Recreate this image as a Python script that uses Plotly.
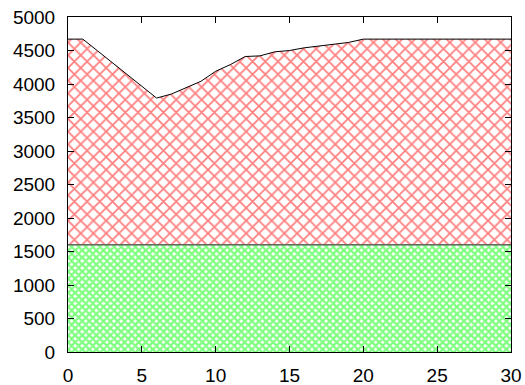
import plotly.graph_objects as go

x_vals = list(range(0, 31))
top_vals = [4670, 4670, 4495, 4320, 4140, 3965, 3790, 3850, 3940, 4040,
            4190, 4290, 4410, 4420, 4480, 4500, 4540, 4570, 4600, 4620,
            4670, 4670, 4670, 4670, 4670, 4670, 4670, 4670, 4670, 4670, 4670]
base_vals = [1600] * 31

x_ticks = [0, 5, 10, 15, 20, 25, 30]
y_ticks = list(range(0, 5001, 500))

fig = go.Figure()
fig.add_trace(go.Scatter(
    x=x_vals, y=base_vals, mode="lines", fill="tozeroy",
    line=dict(color="#666666", width=1.5),
    fillcolor="rgba(0,0,0,0)",
    fillpattern=dict(shape="x", fgcolor="#00ff00", bgcolor="white", size=5, solidity=0.7),
    showlegend=False, hoverinfo="skip"))
fig.add_trace(go.Scatter(
    x=x_vals, y=top_vals, mode="lines", fill="tonexty",
    line=dict(color="black", width=1),
    fillcolor="rgba(0,0,0,0)",
    fillpattern=dict(shape="x", fgcolor="#ff0000", bgcolor="white", size=9, solidity=0.35),
    showlegend=False, hoverinfo="skip"))

axis_common = dict(showline=True, linecolor="black", linewidth=1, mirror="ticks",
                   ticks="inside", ticklen=6, tickcolor="black", showgrid=False,
                   zeroline=False, automargin=False,
                   tickfont=dict(family="Liberation Sans, Arial", size=19, color="black"))
fig.update_xaxes(range=[0, 30], tickvals=x_ticks, ticklabelstandoff=6, **axis_common)
fig.update_yaxes(range=[0, 5000], tickvals=y_ticks, ticklabelstandoff=8, **axis_common)
fig.update_layout(width=525, height=385, margin=dict(l=68, r=14, t=17, b=33),
                  paper_bgcolor="white", plot_bgcolor="white")
fig.write_html("out.html", config={"displayModeBar": False},
               post_script="document.body.style.margin='0';document.body.style.overflow='hidden';")
